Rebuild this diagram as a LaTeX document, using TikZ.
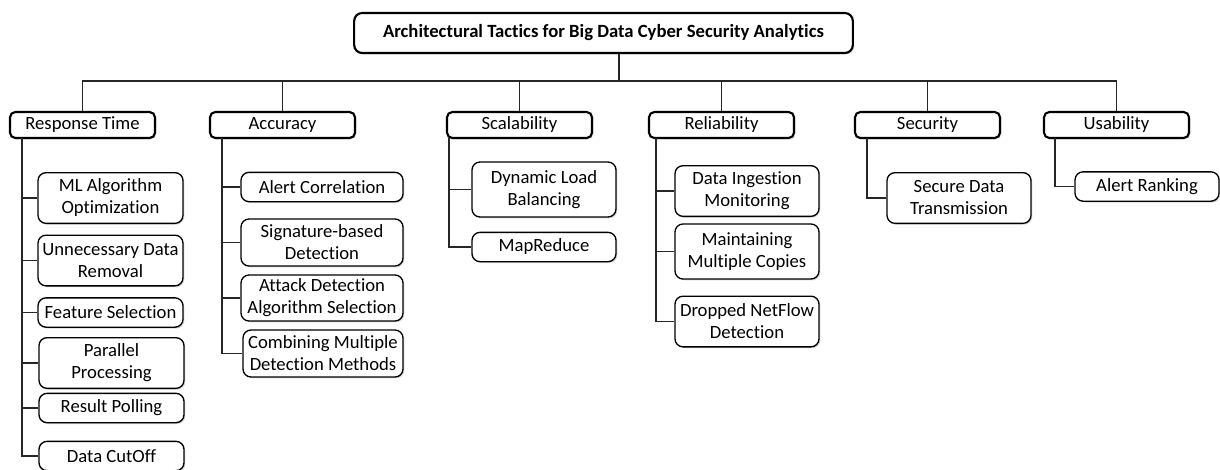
\documentclass[tikz,border=0pt]{standalone}
\usepackage{fontspec}
\setmainfont{Carlito}[Ligatures=NoCommon]
\usetikzlibrary{shadows}

\begin{document}
\begin{tikzpicture}[
		x=0.75pt, y=-0.75pt,
		every node/.style={rectangle, draw, fill=white, align=center, inner sep=1pt,
			font=\fontsize{14}{16.5}\selectfont,
			drop shadow={shadow xshift=1pt, shadow yshift=-1pt, opacity=0.3}},
		quality/.style={line width=1.6pt, rounded corners=4pt, minimum width=108.75pt, minimum height=19.5pt},
		tactic/.style={line width=1pt, rounded corners=6pt, minimum width=#1, minimum height=22pt},
		tactic/.default=108pt,
		two/.style={minimum height=38pt},
		link/.style={line width=0.9pt, draw=black!85}
	]
  \useasboundingbox (0,0) rectangle (1220,469);

  % root
  \node (root) [line width=1.6pt, rounded corners=6pt, minimum width=374pt, minimum height=30pt,
    font=\fontsize{14}{16.5}\selectfont\bfseries] at (603.5,33)
    {Architectural Tactics for Big Data Cyber Security Analytics};

  % quality attributes
  \node (rt) [quality] at (82.5,125) {Response Time};
  \node (acc) [quality] at (282.5,125) {Accuracy};
  \node (sca) [quality] at (519.5,125) {Scalability};
  \node (rel) [quality] at (721.5,125) {Reliability};
  \node (sec) [quality] at (927.5,125) {Security};
  \node (usa) [quality] at (1116.5,125) {Usability};

  % response time
  \node (ml) [tactic=108.75pt, two] at (110.5,198) {ML Algorithm\\Optimization};
  \node (udr) [tactic=108.75pt, two] at (110.5,260.5) {Unnecessary Data\\Removal};
  \node (fs) [tactic=108.75pt] at (110.5,312.5) {Feature Selection};
  \node (pp) [tactic=108.75pt, two] at (111.5,363) {Parallel\\Processing};
  \node (rp) [tactic=108.75pt] at (111.5,408) {Result Polling};
  \node (dc) [tactic=108.75pt] at (111.5,456) {Data CutOff};

  % accuracy
  \node (ac) [tactic=121.5pt] at (322,187) {Alert Correlation};
  \node (sbd) [tactic=121.5pt, minimum height=35.25pt] at (322,242.5) {Signature-based\\Detection};
  \node (adas) [tactic=121.5pt, minimum height=34.5pt] at (322,298) {Attack Detection\\Algorithm Selection};
  \node (cmdm) [tactic=120pt, minimum height=35.25pt] at (323,353.5) {Combining Multiple\\Detection Methods};

  % scalability
  \node (dlb) [tactic, minimum height=41.25pt] at (544,189.5) {Dynamic Load\\Balancing};
  \node (mr) [tactic] at (544,247) {MapReduce};

  % reliability
  \node (dim) [tactic, two] at (747,191) {Data Ingestion\\Monitoring};
  \node (mmc) [tactic, minimum height=41.25pt] at (747,251.5) {Maintaining\\Multiple Copies};
  \node (dnd) [tactic, two] at (747,321.5) {Dropped NetFlow\\Detection};

  % security, usability
  \node (sdt) [tactic, two] at (959,198) {Secure Data\\Transmission};
  \node (ar) [tactic] at (1147,186.5) {Alert Ranking};

  % connectors
  \coordinate (hub) at (619,81);
  \draw [link] (hub |- root.south) -- (hub);
  \draw [link] (rt.north) |- (hub) -| (usa.north);
  \foreach \q in {acc, sca, rel, sec}
    \draw [link] (\q.north) -- (\q.north |- hub);

  \coordinate (rt_trunk) at (22,138);
  \coordinate (acc_trunk) at (222,138);
  \coordinate (sca_trunk) at (449,138);
  \coordinate (rel_trunk) at (656,138);
  \coordinate (sec_trunk) at (867,138);
  \coordinate (usa_trunk) at (1055,138);
  \foreach \t in {ml, udr, fs, pp, rp, dc}
    \draw [link] (rt_trunk) |- (\t.west);
  \foreach \t in {ac, sbd, adas, cmdm}
    \draw [link] (acc_trunk) |- (\t.west);
  \foreach \t in {dlb, mr}
    \draw [link] (sca_trunk) |- (\t.west);
  \foreach \t in {dim, mmc, dnd}
    \draw [link] (rel_trunk) |- (\t.west);
  \draw [link] (sec_trunk) |- (sdt.west);
  \draw [link] (usa_trunk) |- (ar.west);
\end{tikzpicture}
\end{document}
